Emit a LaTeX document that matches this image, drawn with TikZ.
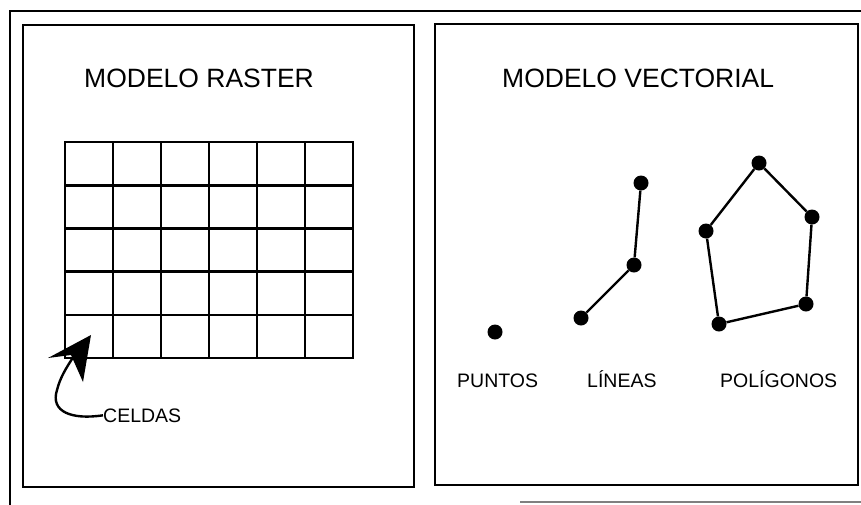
\documentclass[tikz,border=0pt]{standalone}
\usepackage{fontspec}
\setmainfont{Liberation Sans}
\begin{document}
\begin{tikzpicture}[x=1pt,y=-1pt,
  frame/.style={line width=1.8pt,black},
  gridline/.style={line width=2.6pt,black},
  vdot/.style={circle,fill=black,draw=none,minimum size=15pt,inner sep=0pt},
  vline/.style={line width=2.4pt,black},
  title/.style={anchor=base west,inner sep=0pt,font=\fontsize{26.5}{30}\selectfont},
  label/.style={anchor=base west,inner sep=0pt,font=\fontsize{19.5}{22}\selectfont}]
\useasboundingbox (0,0) rectangle (861,504);
\fill[white] (0,0) rectangle (861,504);
% outer frame
\draw[frame] (10,506) -- (10,11) -- (870,11);
\draw[line width=1.2pt,black!50] (520,502) -- (870,502);
% panels
\draw[frame] (23,25) rectangle (414,487);
\draw[frame] (435,24) rectangle (858,485);
% titles
\node[title] (t1) at (84,87.5) {MODELO RASTER};
\node[title] (t2) at (502,87.5) {MODELO VECTORIAL};
% grid
\foreach \i in {0,...,6} \draw[gridline] (65+48*\i,142) -- (65+48*\i,358);
\foreach \j in {0,...,5} \draw[gridline] (64,142+43.2*\j) -- (354,142+43.2*\j);
% arrow to a cell
\node[label] (celdas) at (103,422) {CELDAS};
\coordinate (tip) at (91,335);
\fill (tip) -- (48,358) -- (71,355) -- (83,382) -- cycle;
\draw[line width=2.4pt] (celdas.west) .. controls (72,420) and (50,412) .. (57,390)
   .. controls (60,378) and (66,368) .. (74,356);
% points
\node[vdot] (p1) at (495,332) {};
\node[label] (lp) at (457,387) {PUNTOS};
% lines
\node[vdot] (l1) at (641,183) {};
\node[vdot] (l2) at (634,265) {};
\node[vdot] (l3) at (581,318) {};
\draw[vline] (l1) -- (l2) -- (l3);
\node[label] (ll) at (587,387) {LÍNEAS};
% polygon
\node[vdot] (g1) at (759,163) {};
\node[vdot] (g2) at (812,217) {};
\node[vdot] (g3) at (806,304) {};
\node[vdot] (g4) at (719,324) {};
\node[vdot] (g5) at (706,231) {};
\draw[vline] (g1) -- (g2) -- (g3) -- (g4) -- (g5) -- (g1);
\node[label] (lg) at (720,387) {POLÍGONOS};
\end{tikzpicture}
\end{document}
